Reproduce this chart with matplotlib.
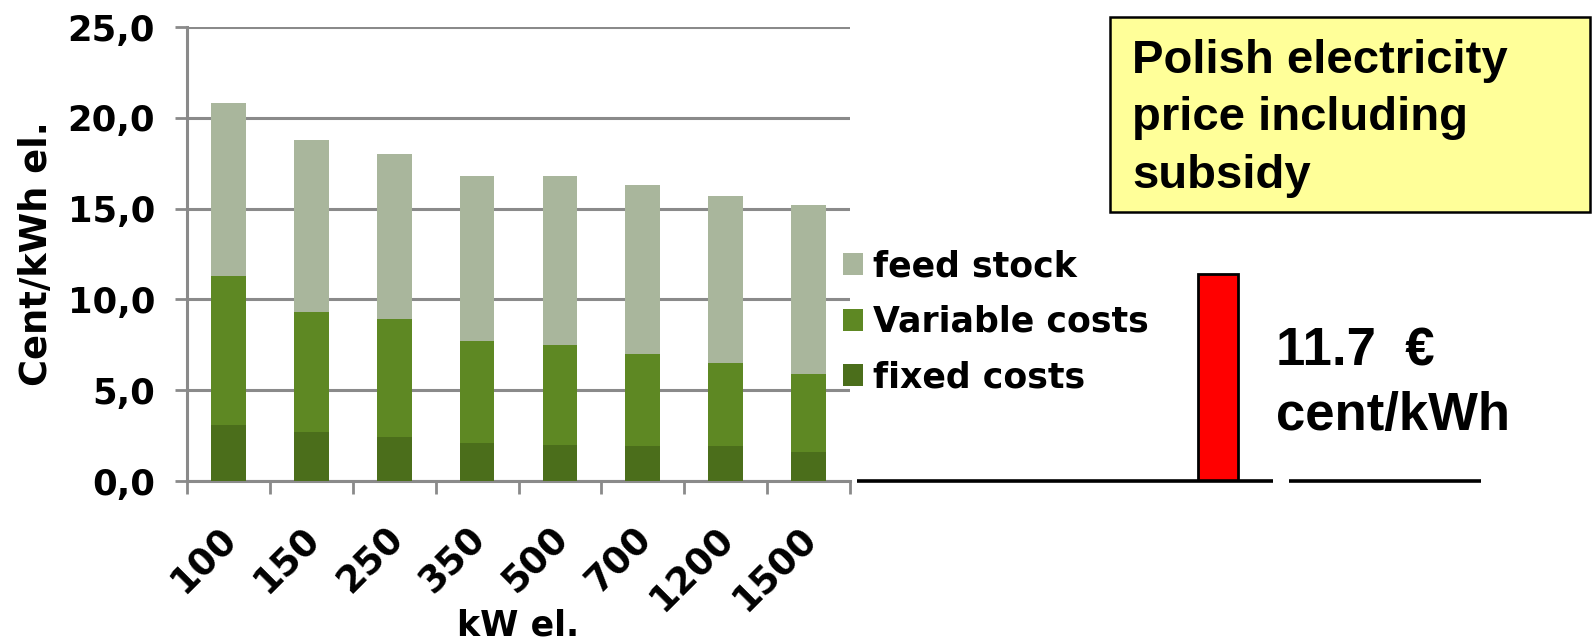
import matplotlib
matplotlib.use("Agg")
import matplotlib.pyplot as plt
from matplotlib.patches import Rectangle
from matplotlib.transforms import ScaledTranslation
import numpy as np

# kW el. categories and cost components (cent/kWh el.)
sizes = ["100", "150", "250", "350", "500", "700", "1200", "1500"]
fixed_costs = [3.1, 2.7, 2.4, 2.1, 2.0, 1.9, 1.9, 1.6]
variable_costs = [8.2, 6.6, 6.5, 5.6, 5.5, 5.1, 4.6, 4.3]
feed_stock = [9.5, 9.5, 9.1, 9.1, 9.3, 9.3, 9.2, 9.3]
yticks = [0, 5, 10, 15, 20, 25]
legend_labels = ["feed stock", "Variable costs", "fixed costs"]

polish_price = [11.4]
price_lines = ["11.7  €", "cent/kWh"]
box_lines = ["Polish electricity", "price including", "subsidy"]

c_fixed = "#4B6E1B"
c_var = "#5E8823"
c_feed = "#A9B69C"
grey = "#8a8a8a"

W, H = 1596, 640
fig = plt.figure(figsize=(W / 100, H / 100), dpi=100)

def fx(px):
    return px / W

def fy(py):
    return 1 - py / H

ax = fig.add_axes([fx(187), fy(481), fx(850) - fx(187), fy(27) - fy(481)])

x = np.arange(len(sizes))
bw = 0.42
b1 = ax.bar(x, fixed_costs, bw, color=c_fixed, zorder=3)
bottom2 = np.array(fixed_costs)
b2 = ax.bar(x, variable_costs, bw, bottom=bottom2, color=c_var, zorder=3)
bottom3 = bottom2 + np.array(variable_costs)
b3 = ax.bar(x, feed_stock, bw, bottom=bottom3, color=c_feed, zorder=3)

ax.set_xlim(-0.5, len(sizes) - 0.5)
ax.set_ylim(0, 25)
ax.set_yticks(yticks)
ax.set_yticklabels([f"{v:.1f}".replace(".", ",") for v in yticks],
                   fontsize=25.5, fontweight="bold")
ax.yaxis.grid(True, color=grey, linewidth=2.2, zorder=0)
ax.set_axisbelow(True)

ax.set_xticks(x)
ax.set_xticklabels(sizes, rotation=45, ha="right", va="center",
                   rotation_mode="anchor", fontsize=26.5, fontweight="bold")
ax.set_xticks(np.arange(-0.5, len(sizes)), minor=True)
ax.tick_params(axis="x", which="major", length=0, pad=34)
ax.tick_params(axis="x", which="minor", length=9, width=2, color=grey)
ax.tick_params(axis="y", length=9, width=2, color=grey, pad=14)

# small nudge of the slanted labels (after tick_params, which resets transforms)
shift = ScaledTranslation(0.03, -0.05, fig.dpi_scale_trans)
for lab in ax.get_xticklabels():
    lab.set_transform(lab.get_transform() + shift)

for s in ["top", "right"]:
    ax.spines[s].set_visible(False)
for s in ["left", "bottom"]:
    ax.spines[s].set_color(grey)
    ax.spines[s].set_linewidth(2.2)

ax.set_ylabel("Cent/kWh el.", fontsize=26.5, fontweight="bold")
ax.yaxis.set_label_coords(-0.199, 0.5)
ax.set_xlabel("kW el.", fontsize=25, fontweight="bold")
ax.xaxis.set_label_coords(0.5, -0.28)

ax.legend([b3, b2, b1], legend_labels,
          loc="center left", bbox_to_anchor=(fx(829), fy(322)),
          bbox_transform=fig.transFigure, frameon=False,
          prop={"size": 25, "weight": "bold"},
          handlelength=0.58, handleheight=0.58, handletextpad=0.3,
          labelspacing=0.62, borderaxespad=0)

# right-hand comparison panel, same vertical scale as the chart
ax2 = fig.add_axes([fx(857), fy(481), fx(1481) - fx(857), fy(27) - fy(481)])
ax2.set_xlim(857, 1481)
ax2.set_ylim(0, 25)
ax2.axis("off")
ax2.bar([1218], polish_price, 40, color="#FF0000", edgecolor="black",
        linewidth=2, zorder=2)
ax2.hlines(0, 857, 1273, color="black", linewidth=2.6, clip_on=False, zorder=3)
ax2.hlines(0, 1289, 1481, color="black", linewidth=2.6, clip_on=False, zorder=3)

for txt, base in zip(price_lines, [366, 430]):
    fig.text(fx(1276), fy(base), txt, fontsize=38, fontweight="bold",
             family="Liberation Sans", va="baseline", ha="left")

fig.patches.append(Rectangle((fx(1110), fy(212)), fx(1590) - fx(1110),
                             fy(17) - fy(212), transform=fig.transFigure,
                             facecolor="#FFFF99", edgecolor="black",
                             linewidth=1.8, figure=fig))
for txt, base in zip(box_lines, [73, 130.5, 188]):
    fig.text(fx(1132), fy(base), txt, fontsize=34, fontweight="bold",
             family="Liberation Sans", va="baseline", ha="left")

fig.savefig("out.png", dpi=100)
